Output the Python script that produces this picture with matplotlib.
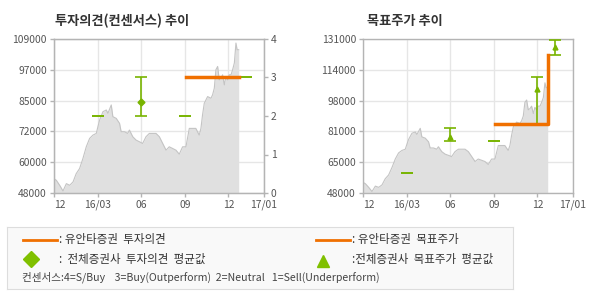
import matplotlib
matplotlib.use("Agg")
import matplotlib.pyplot as plt
from matplotlib.lines import Line2D

plt.rcParams['font.family'] = ['Noto Sans CJK KR', 'DejaVu Sans']

# ---- data ----
price_x = [0.0, 0.16, 0.39, 0.62, 0.85, 1.08, 1.31, 1.53, 1.76, 1.99, 2.22, 2.45,
           2.68, 2.91, 3.02, 3.14, 3.37, 3.60, 3.71, 3.94, 4.05, 4.28, 4.51, 4.62,
           4.85, 5.07, 5.19, 5.42, 5.65, 5.88, 6.10, 6.33, 6.56, 6.79, 7.02, 7.25,
           7.48, 7.71, 7.93, 8.16, 8.39, 8.62, 8.85, 9.08, 9.31, 9.53, 9.76, 9.99,
           10.11, 10.22, 10.34, 10.57, 10.80, 10.91, 11.03, 11.14, 11.26, 11.37,
           11.49, 11.60, 11.72, 11.83, 11.95, 12.06, 12.18, 12.29, 12.41, 12.52,
           12.60, 12.71]
price_y = [53700, 53040, 51050, 48800, 51710, 51050, 52380, 55690, 57680, 61660,
           66300, 69610, 70940, 71600, 74250, 76910, 80220, 80880, 79560, 82870,
           78230, 77570, 75580, 72270, 72270, 71600, 72930, 70280, 68950, 68290,
           67620, 70280, 71600, 71600, 71600, 70280, 67620, 64970, 66300, 65640,
           64970, 63380, 66300, 66300, 73590, 73590, 73590, 70940, 73590, 78900,
           83540, 86190, 85530, 86850, 89500, 96800, 98120, 92820, 93480, 94810,
           90830, 94150, 92820, 94810, 94810, 96800, 99500, 107400, 104750, 104750]

month_ticks = [0, 3, 6, 9, 12, 14.45]
month_labels = ['12', '16/03', '06', '09', '12', '17/01']

# consensus opinion (all brokers)
op_x = [3, 6, 9, 12, 13.2]
op_avg = [2, 2.36, 2, 3, 3]
op_min = [2, 2, 2, 3, 3]
op_max = [2, 3, 2, 3, 3]
# Yuanta opinion
yu_op_x = [9.05, 12.71]
yu_op_y = [3, 3]

# consensus target price (all brokers)
tp_x = [3, 6, 9, 12, 13.2]
tp_avg = [59000, 78300, 75800, 104300, 126500]
tp_min = [59000, 75800, 75800, 85000, 122300]
tp_max = [59000, 82800, 75800, 110400, 130500]
# Yuanta target price
yu_tp_x = [9.05, 12.71, 12.71]
yu_tp_y = [85300, 85300, 122500]

left_yticks = [48000 + 12200 * i for i in range(6)]
left_ylabels = ['48000', '60000', '72000', '85000', '97000', '109000']
right_yticks = [48000 + 16600 * i for i in range(6)]
right_ylabels = ['48000', '65000', '81000', '98000', '114000', '131000']
op_ticks = [0, 1, 2, 3, 4]

ORANGE = '#f07000'
GREEN = '#78b400'
GRID = '#e6e6e6'
SPINE = '#b4b4b4'
TXT = '#555555'

fig = plt.figure(figsize=(5.9, 3.0), dpi=100)
W, H = 590, 300


def rect(x0, y0, x1, y1):
    return [x0 / W, 1 - y1 / H, (x1 - x0) / W, (y1 - y0) / H]


def style(ax):
    ax.set_xlim(0, 14.45)
    ax.set_xticks(month_ticks)
    ax.set_xticklabels(month_labels)
    ax.get_xticklabels()[0].set_ha('left')
    for s in ax.spines.values():
        s.set_color(SPINE)
        s.set_linewidth(1)
    ax.tick_params(colors=SPINE, labelcolor=TXT, labelsize=7.4, length=3, width=1, pad=2)
    ax.grid(True, color=GRID, linewidth=1)
    ax.set_axisbelow(True)


def draw_price(ax):
    ax.fill_between(price_x, price_y, 0, color='#e0e0e0', linewidth=0, zorder=1)
    ax.plot(price_x, price_y, color='#c4c4c4', linewidth=0.8, zorder=2)


def draw_consensus(ax, xs, avg, mn, mx, marker):
    lo = [a - m for a, m in zip(avg, mn)]
    hi = [m - a for a, m in zip(avg, mx)]
    eb = ax.errorbar(xs, avg, yerr=[lo, hi], fmt='none', ecolor=GREEN,
                     elinewidth=1.2, capsize=4.5, capthick=1.2, zorder=3)
    for art in list(eb.lines[1]) + list(eb.lines[2]):
        art.set_clip_on(False)
    ax.plot([x for x, a, m in zip(xs, avg, mx) if m != a],
            [a for a, m in zip(avg, mx) if m != a],
            marker=marker, markersize=3.5, color=GREEN, linestyle='none',
            zorder=4, clip_on=False)


# ---- left chart ----
axL = fig.add_axes(rect(54, 39, 264, 193))
style(axL)
axL.set_ylim(48000, 109000)
axL.set_yticks(left_yticks)
axL.set_yticklabels(left_ylabels)
draw_price(axL)
axL2 = axL.twinx()
axL2.set_ylim(0, 4)
axL2.set_yticks(op_ticks)
for s in axL2.spines.values():
    s.set_color(SPINE)
axL2.tick_params(colors=SPINE, labelcolor=TXT, labelsize=7.4, length=3, width=1, pad=2)
draw_consensus(axL2, op_x, op_avg, op_min, op_max, 'D')
axL2.plot(yu_op_x, yu_op_y, color=ORANGE, linewidth=2.5, zorder=5)
fig.text(55 / W, 1 - 21 / H, '투자의견(컨센서스) 추이', fontsize=9.5, fontweight='bold',
         color='#333333', va='center', ha='left')

# ---- right chart ----
axR = fig.add_axes(rect(363, 39, 573, 193))
style(axR)
axR.set_ylim(48000, 131000)
axR.set_yticks(right_yticks)
axR.set_yticklabels(right_ylabels)
draw_price(axR)
draw_consensus(axR, tp_x, tp_avg, tp_min, tp_max, '^')
axR.plot(yu_tp_x, yu_tp_y, color=ORANGE, linewidth=2.5, zorder=5)
fig.text(367 / W, 1 - 21 / H, '목표주가 추이', fontsize=9.5, fontweight='bold',
         color='#333333', va='center', ha='left')

# ---- legend box ----
axG = fig.add_axes(rect(7, 227, 513, 289))
axG.set_xlim(7, 513)
axG.set_ylim(289, 227)
axG.set_xticks([])
axG.set_yticks([])
axG.set_facecolor('#f9f9f9')
for s in axG.spines.values():
    s.set_color('#dddddd')
lt = dict(fontsize=8.3, color='#333333', va='center', ha='left')
axG.add_line(Line2D([23, 57], [240, 240], color=ORANGE, linewidth=2))
axG.text(59, 240, ': 유안타증권  투자의견', **lt)
axG.add_line(Line2D([316, 350], [240, 240], color=ORANGE, linewidth=2))
axG.text(352, 240, ': 유안타증권  목표주가', **lt)
axG.plot([31], [259], marker='D', markersize=8, color='#80c000')
axG.text(59, 259, ':  전체증권사  투자의견  평균값', **lt)
axG.plot([323], [261], marker='^', markersize=8, color='#80c000')
axG.text(352, 259, ':전체증권사  목표주가  평균값', **lt)
axG.text(22, 277, '컨센서스:4=S/Buy    3=Buy(Outperform)  2=Neutral   1=Sell(Underperform)',
         fontsize=7.6, color='#444444', va='center', ha='left')

fig.savefig('out.png', dpi=100)
